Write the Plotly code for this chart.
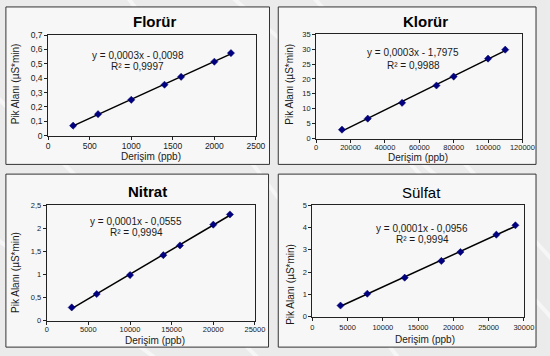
import numpy as np
import plotly.graph_objects as go

# Calibration data: concentration (ppb) vs. peak area (µS*min)
florur_x = [300, 600, 1000, 1400, 1600, 2000, 2200]
florur_y = [0.07, 0.15, 0.25, 0.355, 0.41, 0.515, 0.575]

klorur_x = [15000, 30000, 50000, 70000, 80000, 100000, 110000]
klorur_y = [3.0, 6.7, 12.0, 17.8, 20.8, 26.8, 29.8]

nitrat_x = [3000, 6000, 10000, 14000, 16000, 20000, 22000]
nitrat_y = [0.29, 0.58, 0.99, 1.42, 1.63, 2.08, 2.30]

sulfat_x = [4000, 7800, 13100, 18300, 21000, 26100, 28800]
sulfat_y = [0.50, 1.03, 1.75, 2.50, 2.90, 3.68, 4.10]

titles = ["Florür", "Klorür", "Nitrat", "Sülfat"]
title_bold = [True, True, True, False]
equations = ["y = 0,0003x - 0,0098", "y = 0,0003x - 1,7975",
             "y = 0,0001x - 0,0555", "y = 0,0001x - 0,0956"]
r_squared = ["R² = 0,9997", "R² = 0,9988", "R² = 0,9994", "R² = 0,9994"]

x_ranges = [(0, 2500, 500), (0, 120000, 20000), (0, 25000, 5000), (0, 30000, 5000)]
y_ranges = [(0, 0.7, 0.1), (0, 35, 5), (0, 2.5, 0.5), (0, 5, 1)]

series = [(florur_x, florur_y), (klorur_x, klorur_y),
          (nitrat_x, nitrat_y), (sulfat_x, sulfat_y)]

W, H = 550, 356

def px(x):
    return x / W

def py(y):
    return 1 - y / H

# pixel layout of each panel: box, plot area, title, labels
panels = [
    dict(box=(4, 2, 275, 164), plot=(47.5, 31, 261, 134.5), title=(157, 17),
         xt=(153, 155.5), yt=(14, 81), eq=(139.5, 52, 63), tick=8.5, stand=-1),
    dict(box=(284, 2, 549, 164), plot=(323, 30, 535, 137.5), title=(435, 17),
         xt=(428, 157), yt=(296, 81), eq=(423, 49, 62), tick=7.5, stand=-2),
    dict(box=(4, 174, 274, 352), plot=(46, 206, 260, 325), title=(150, 192),
         xt=(157, 345), yt=(14, 275), eq=(138, 223, 234), tick=7.5, stand=-2),
    dict(box=(284, 174, 549, 352), plot=(319, 206, 536.5, 320.7), title=(431, 193),
         xt=(435, 344.5), yt=(297, 287), eq=(432, 229.7, 241.3), tick=7.5, stand=0),
]

FONT = "Liberation Sans, Arial, sans-serif"
TXT = "#1a1a1a"

fig = go.Figure()
shapes = []
annotations = []
layout_axes = {}

# faint light streaks across the grey backdrop
for (sx0, sy0, sx1, sy1) in [(-40, 60, 300, 400), (120, -20, 420, 380),
                             (300, -30, 600, 300), (380, 120, 600, 360),
                             (-20, 230, 180, 380), (200, -40, 520, 240)]:
    shapes.append(dict(type="line", xref="paper", yref="paper",
                       x0=px(sx0), y0=py(sy0), x1=px(sx1), y1=py(sy1),
                       line=dict(color="rgba(255,255,255,0.55)", width=4),
                       layer="below"))

for i, (p, (xs, ys)) in enumerate(zip(panels, series)):
    n = "" if i == 0 else str(i + 1)
    xa, ya = "x" + n, "y" + n

    # light panel box with dark border
    bx0, by0, bx1, by1 = p["box"]
    shapes.append(dict(type="rect", xref="paper", yref="paper",
                       x0=px(bx0), x1=px(bx1), y0=py(by1), y1=py(by0),
                       fillcolor="#f7f7f7", line=dict(color="#333333", width=1),
                       layer="below"))

    # linear trendline fitted to the calibration points
    slope, intercept = np.polyfit(xs, ys, 1)
    lx = np.array([min(xs), max(xs)])
    fig.add_trace(go.Scatter(x=lx, y=slope * lx + intercept, mode="lines",
                             line=dict(color="black", width=1.5),
                             xaxis=xa, yaxis=ya, showlegend=False, hoverinfo="skip"))
    fig.add_trace(go.Scatter(x=xs, y=ys, mode="markers",
                             marker=dict(symbol="diamond", size=5.5, color="#000080",
                                         line=dict(color="#000060", width=0.5)),
                             xaxis=xa, yaxis=ya, showlegend=False))

    x0, y0, x1, y1 = p["plot"]
    xr, yr = x_ranges[i], y_ranges[i]
    common = dict(showline=True, linecolor="#222222", linewidth=1, mirror=True,
                  ticks="outside", ticklen=3, tickcolor="#222222", showgrid=False,
                  zeroline=False, tickfont=dict(family=FONT, size=p["tick"], color=TXT))
    layout_axes["xaxis" + n] = dict(domain=[px(x0), px(x1)], anchor=ya,
                                    range=[xr[0], xr[1]], dtick=xr[2], tick0=0,
                                    tickformat="d", ticklabelstandoff=p["stand"],
                                    **common)
    layout_axes["yaxis" + n] = dict(domain=[py(y1), py(y0)], anchor=xa,
                                    range=[yr[0], yr[1]], dtick=yr[2], tick0=0,
                                    **common)

    t = titles[i]
    annotations.append(dict(text=f"<b>{t}</b>" if title_bold[i] else t,
                            x=px(p["title"][0]), y=py(p["title"][1]),
                            xref="paper", yref="paper", showarrow=False,
                            xanchor="center", yanchor="middle",
                            font=dict(family=FONT, size=15, color="black")))
    annotations.append(dict(text="Derişim (ppb)", x=px(p["xt"][0]), y=py(p["xt"][1]),
                            xref="paper", yref="paper", showarrow=False,
                            xanchor="center", yanchor="middle",
                            font=dict(family=FONT, size=10, color=TXT)))
    annotations.append(dict(text="Pik Alanı (µS*min)", x=px(p["yt"][0]), y=py(p["yt"][1]),
                            xref="paper", yref="paper", showarrow=False, textangle=-90,
                            xanchor="center", yanchor="middle",
                            font=dict(family=FONT, size=10, color=TXT)))
    ex, ey1, ey2 = p["eq"]
    annotations.append(dict(text=equations[i], x=px(ex), y=py(ey1),
                            xref="paper", yref="paper", showarrow=False,
                            xanchor="center", yanchor="middle",
                            font=dict(family=FONT, size=10, color=TXT)))
    annotations.append(dict(text=r_squared[i], x=px(ex), y=py(ey2),
                            xref="paper", yref="paper", showarrow=False,
                            xanchor="center", yanchor="middle",
                            font=dict(family=FONT, size=10, color=TXT)))

fig.update_layout(
    width=W, height=H, margin=dict(l=0, r=0, t=0, b=0),
    paper_bgcolor="#ebebeb", plot_bgcolor="rgba(0,0,0,0)",
    separators=", ", shapes=shapes, annotations=annotations,
    font=dict(family=FONT, color=TXT), **layout_axes,
)

fig.write_html("out.html")
